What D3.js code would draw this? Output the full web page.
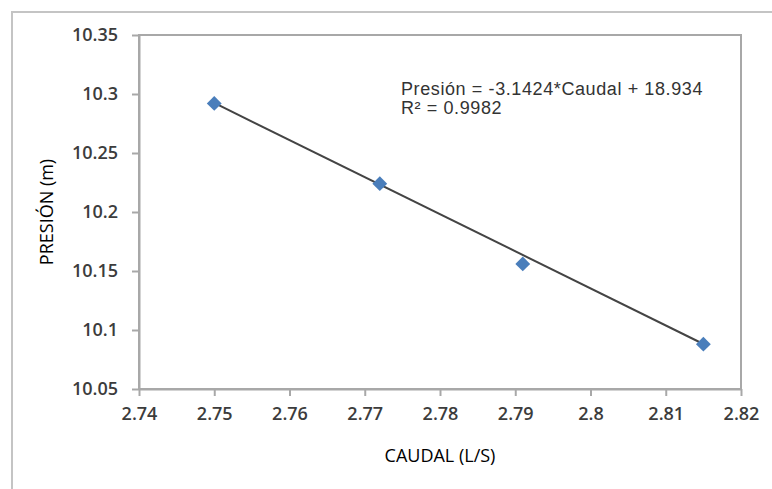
<!DOCTYPE html>
<html>
<head>
<meta charset="utf-8">
<script src="https://cdn.jsdelivr.net/npm/d3@7"></script>
<style>
  html, body { margin: 0; padding: 0; background: #fff; }
  svg { display: block; }
</style>
</head>
<body>
<svg id="chart" width="772" height="489"></svg>
<script>
// Measured flow (L/s) and pressure (m)
const caudal  = [2.750, 2.772, 2.791, 2.815];
const presion = [10.292, 10.224, 10.156, 10.088];

// Linear fit shown on the chart
const slope = -3.1424;
const intercept = 18.934;
const r2 = 0.9982;

// Axis ticks
const xTicks = [2.74, 2.75, 2.76, 2.77, 2.78, 2.79, 2.8, 2.81, 2.82];
const yTicks = [10.05, 10.1, 10.15, 10.2, 10.25, 10.3, 10.35];

const xTitle = "CAUDAL (L/S)";
const yTitle = "PRESIÓN (m)";

const W = 772, H = 489;
const margin = { left: 139, top: 35, right: 31, bottom: 100 };
const pw = W - margin.left - margin.right;
const ph = H - margin.top - margin.bottom;

const svg = d3.select("#chart");

// Chart area border
svg.append("rect")
  .attr("x", 12).attr("y", 12)
  .attr("width", 820).attr("height", 520)
  .attr("fill", "#fff")
  .attr("stroke", "#c4c4c4")
  .attr("stroke-width", 2);

const x = d3.scaleLinear().domain([2.74, 2.82]).range([0, pw]);
const y = d3.scaleLinear().domain([10.05, 10.35]).range([ph, 0]);

const g = svg.append("g").attr("transform", `translate(${margin.left},${margin.top})`);

// Plot area frame
g.append("rect")
  .attr("x", 0).attr("y", 0)
  .attr("width", pw).attr("height", ph)
  .attr("fill", "none")
  .attr("stroke", "#a8a8a8")
  .attr("stroke-width", 2);

const tickFont = "'Open Sans', sans-serif";

const xAxis = g.append("g")
  .attr("transform", `translate(0,${ph})`)
  .call(d3.axisBottom(x).tickValues(xTicks).tickFormat(d => d3.format("")(+d.toFixed(2)))
    .tickSizeInner(7).tickSizeOuter(0).tickPadding(11));

const yAxis = g.append("g")
  .call(d3.axisLeft(y).tickValues(yTicks).tickFormat(d => d3.format("")(+d.toFixed(2)))
    .tickSizeInner(7).tickSizeOuter(0).tickPadding(14));

[xAxis, yAxis].forEach(a => {
  a.select(".domain").attr("stroke", "#a8a8a8").attr("stroke-width", 2);
  a.selectAll(".tick line").attr("stroke", "#a8a8a8").attr("stroke-width", 2);
  a.selectAll(".tick text")
    .attr("fill", "#3c3c3c")
    .style("font-family", tickFont)
    .style("font-size", "18px")
    .style("font-weight", 600);
});

// Axis titles
svg.append("text")
  .attr("x", margin.left + pw / 2)
  .attr("y", 462)
  .attr("text-anchor", "middle")
  .attr("fill", "#000")
  .style("font-family", tickFont)
  .style("font-size", "18px")
  .text(xTitle);

svg.append("text")
  .attr("transform", `translate(53,${margin.top + ph / 2}) rotate(-90)`)
  .attr("text-anchor", "middle")
  .attr("fill", "#000")
  .style("font-family", tickFont)
  .style("font-size", "18px")
  .text(yTitle);

// Linear trendline across the data range
const xMin = d3.min(caudal), xMax = d3.max(caudal);
g.append("line")
  .attr("x1", x(xMin)).attr("y1", y(slope * xMin + intercept))
  .attr("x2", x(xMax)).attr("y2", y(slope * xMax + intercept))
  .attr("stroke", "#444")
  .attr("stroke-width", 2);

// Data markers (diamonds)
const diamond = d3.symbol().type(d3.symbolSquare).size(110);
g.selectAll("path.pt")
  .data(caudal.map((c, i) => [c, presion[i]]))
  .join("path")
  .attr("class", "pt")
  .attr("d", diamond)
  .attr("transform", d => `translate(${x(d[0])},${y(d[1])}) rotate(45)`)
  .attr("fill", "#4a7ebb");

// Regression equation label
const eq = svg.append("text")
  .attr("x", 401).attr("y", 95)
  .attr("fill", "#333")
  .style("font-family", "'Liberation Sans', Arial, sans-serif")
  .style("font-size", "18px")
  .style("letter-spacing", "0.6px");
eq.append("tspan").attr("x", 401).attr("dy", 0)
  .text(`Presión = ${slope}*Caudal + ${intercept}`);
eq.append("tspan").attr("x", 401).attr("dy", 19)
  .text(`R² = ${r2}`);
</script>
</body>
</html>
